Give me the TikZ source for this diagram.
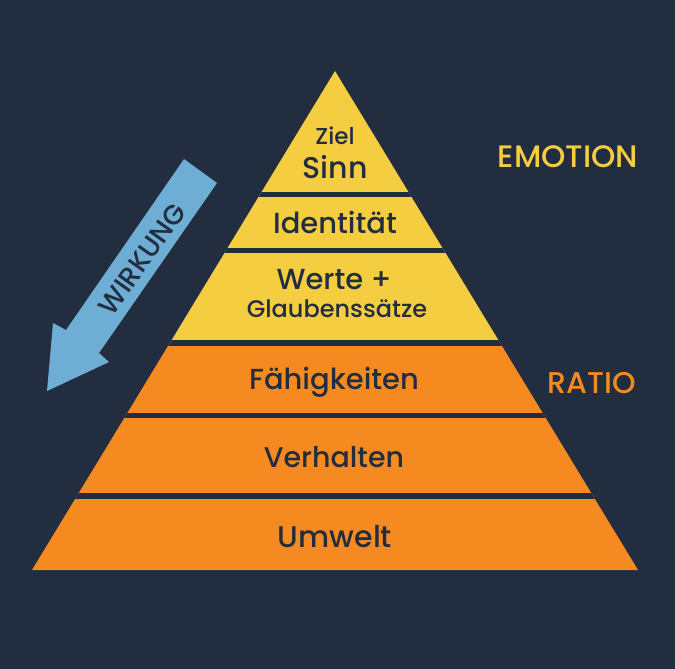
\documentclass[tikz,border=0pt]{standalone}
\usepackage{fontspec}
\setmainfont{Poppins}[UprightFont={* Medium}]
\definecolor{bgc}{RGB}{35,45,64}
\definecolor{yel}{RGB}{244,205,65}
\definecolor{org}{RGB}{245,138,32}
\definecolor{blu}{RGB}{110,174,213}
\tikzset{
  lbl/.style={text=bgc, anchor=base, inner sep=0pt},
  side/.style={anchor=base, inner sep=0pt},
}
\begin{document}
\begin{tikzpicture}[x=1pt,y=-1pt]
\fill[bgc] (0,0) rectangle (675,669);
\useasboundingbox (0,0) rectangle (675,669);
% pyramid
\begin{scope}
\clip (335,71) -- (638,570) -- (32,570) -- cycle;
\fill[yel] (0,60) rectangle (675,343);
\fill[org] (0,343) rectangle (675,575);
\fill[bgc] (0,192) rectangle (675,197);
\fill[bgc] (0,248) rectangle (675,253);
\fill[bgc] (0,340) rectangle (675,346);
\fill[bgc] (0,413) rectangle (675,418);
\fill[bgc] (0,493) rectangle (675,499);
\end{scope}
% arrow
\fill[blu] (184,159) -- (217,183) -- (99,353) -- (109,362) -- (47,391) -- (53,323) -- (66,330) -- cycle;
\node[lbl, rotate=54.5, anchor=center] (wirkung) at (142,259) {\fontsize{27.5}{27.5}\selectfont WIRKUNG};
% labels
\node[lbl] (ziel) at (335,144) {\fontsize{23}{23}\selectfont Ziel};
\node[lbl] (sinn) at (335,178) {\fontsize{30}{30}\selectfont Sinn};
\node[lbl] (ident) at (335,233) {\fontsize{29}{29}\selectfont Identität};
\node[lbl] (werte) at (334,289) {\fontsize{29}{29}\selectfont Werte +};
\node[lbl] (glaub) at (337,317) {\fontsize{24}{24}\selectfont Glaubenssätze};
\node[lbl] (faeh) at (334,389) {\fontsize{29}{29}\selectfont Fähigkeiten};
\node[lbl] (verh) at (334,467) {\fontsize{28.5}{28.5}\selectfont Verhalten};
\node[lbl] (umw) at (335,547) {\fontsize{30}{30}\selectfont Umwelt};
\node[side, text=yel] (emo) at (568,167) {\fontsize{31}{31}\selectfont EMOTION};
\node[side, text=org] (ratio) at (592,393) {\fontsize{30}{30}\selectfont RATIO};
\end{tikzpicture}
\end{document}
